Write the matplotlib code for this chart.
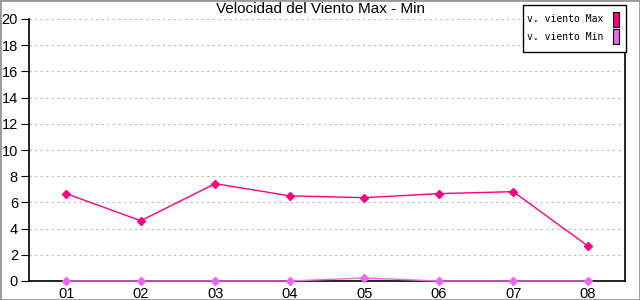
import matplotlib.pyplot as plt
from matplotlib.patches import Rectangle

dias = ['01', '02', '03', '04', '05', '06', '07', '08']
viento_max = [6.67, 4.6, 7.43, 6.5, 6.36, 6.67, 6.82, 2.68]
viento_min = [0, 0, 0, 0, 0.23, 0, 0, 0]

color_max = '#ff0080'
color_min = '#ee66ee'

plt.rcParams['font.family'] = ['Liberation Sans', 'DejaVu Sans']

fig = plt.figure(figsize=(6.4, 3.0), dpi=100)
ax = fig.add_axes([29/640, 19/300, 596/640, 262/300])
x = list(range(1, len(dias) + 1))

ax.plot(x, viento_min, color=color_min, lw=1, marker='D', ms=4, zorder=5, clip_on=False)
ax.plot(x, viento_max, color=color_max, lw=1, marker='D', ms=4, zorder=6, clip_on=False)

ax.set_xlim(0.5, 8.5)
ax.set_ylim(0, 20)
ax.set_yticks(range(0, 21, 2))
ax.set_xticks(x)
ax.set_xticklabels(dias)
ax.tick_params(axis='x', length=0, pad=4, labelsize=10.5)
ax.tick_params(axis='y', length=6, pad=2, labelsize=10.5)
ax.yaxis.grid(True, linestyle=(0, (2, 3)), color='#bbbbbb', lw=0.8)
ax.set_axisbelow(True)
ax.spines['top'].set_visible(False)
for s in ['left', 'bottom', 'right']:
    ax.spines[s].set_linewidth(1.2)

fig.text(0.5, 0.993, 'Velocidad del Viento Max - Min', ha='center', va='top', fontsize=11)

# legend box
fig.patches.append(Rectangle((523/640, 248/300), 103/640, 47/300, transform=fig.transFigure,
                             facecolor='white', edgecolor='black', lw=1, zorder=10))
etiquetas = ['v. viento Max', 'v. viento Min']
colores = [color_max, color_min]
for i, (et, c) in enumerate(zip(etiquetas, colores)):
    yy = (300 - 19.5 - i * 17) / 300
    fig.text(527/640, yy, et, family='DejaVu Sans Mono', fontsize=7, va='center', zorder=11)
    fig.patches.append(Rectangle((613/640, yy - 7.5/300), 6/640, 15/300, transform=fig.transFigure,
                                 facecolor=c, edgecolor='black', lw=0.8, zorder=11))

fig.patches.append(Rectangle((0, 0), 1, 1, transform=fig.transFigure, fill=False,
                             edgecolor='#999999', lw=2, zorder=12))

fig.savefig('out.png', dpi=100)
